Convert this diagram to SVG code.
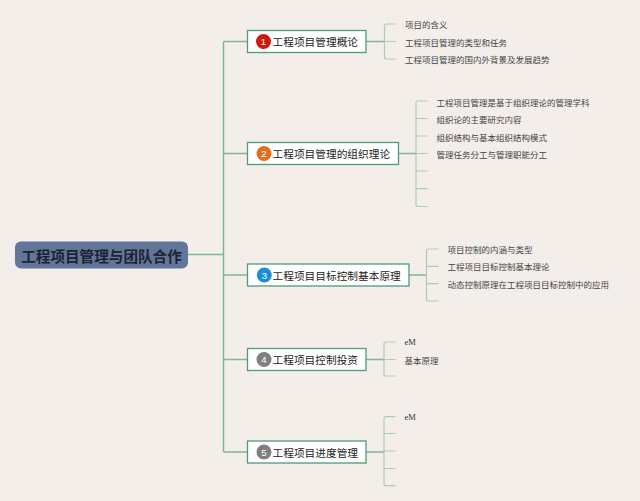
<svg xmlns="http://www.w3.org/2000/svg" width="640" height="501" viewBox="0 0 640 501">
<style>
.bg{fill:#f3eeea}
.trunk{fill:none;stroke:#7db79b;stroke-width:1.5}
.br{fill:none;stroke:#a9cdb9;stroke-width:1.2}
.node{fill:#ffffff;stroke:#4f9a7a;stroke-width:1.3}
.nt{font-family:"Noto Sans CJK SC","Noto Sans",sans-serif;font-size:10.7px;fill:#222;dominant-baseline:central}
.bd{font-family:"Liberation Sans","Noto Sans",sans-serif;font-size:9.5px;fill:#fff;text-anchor:middle;dominant-baseline:central}
.ct{font-family:"Noto Sans CJK SC","Noto Sans",sans-serif;font-size:8.5px;fill:#444;dominant-baseline:central}
.em{font-family:"Liberation Serif",serif;font-size:8.5px;fill:#333;dominant-baseline:central}
.rt{font-family:"Noto Sans CJK SC","Noto Sans",sans-serif;font-size:14.6px;font-weight:bold;fill:#1c2233;text-anchor:middle;dominant-baseline:central}
</style>
<rect class="bg" x="0" y="0" width="640" height="501"/>
<g id="connectors">
<path class="trunk" d="M188 254.5H223.5M223.5 41.5V452M223.5 41.5H247.5M223.5 153.5H247.5M223.5 275H247.5M223.5 359.5H247.5M223.5 452H247.5"/>
<path class="trunk" d="M366 41.5H384.5M398.5 153.5H416M409 275H426.5M366 359.5H384M366 452H384"/>
<path class="br" d="M396 24H386.5Q384.5 24 384.5 26V57Q384.5 59 386.5 59H396M384.5 41.5H396"/>
<path class="br" d="M427.5 101H418Q416 101 416 103V204.5Q416 206.5 418 206.5H427.5M416 118.5H427.5M416 136H427.5M416 153.5H427.5M416 171H427.5M416 188.7H427.5"/>
<path class="br" d="M438.5 249H428.5Q426.5 249 426.5 251V299Q426.5 301 428.5 301H438.5M426.5 266.3H438.5M426.5 283.7H438.5"/>
<path class="br" d="M395.5 342H386Q384 342 384 344V374Q384 376 386 376H395.5M384 359.5H395.5"/>
<path class="br" d="M395.5 416.7H386Q384 416.7 384 418.7V483.7Q384 485.7 386 485.7H395.5M384 433.5H395.5M384 451H395.5M384 468.5H395.5"/>
</g>
<g id="root">
<rect x="15" y="241.5" width="173" height="27" rx="6" fill="#62769a"/>
<text class="rt" x="101.5" y="255">工程项目管理与团队合作</text>
</g>
<g id="n1">
<rect class="node" x="247.5" y="30.5" width="118.5" height="22"/>
<circle cx="263.5" cy="41.5" r="7.5" fill="#cc1a0e"/>
<text class="bd" x="263.5" y="41.8">1</text>
<text class="nt" x="272.5" y="41.5">工程项目管理概论</text>
<text class="ct" x="405" y="24">项目的含义</text>
<text class="ct" x="405" y="41.5">工程项目管理的类型和任务</text>
<text class="ct" x="405" y="59">工程项目管理的国内外背景及发展趋势</text>
</g>
<g id="n2">
<rect class="node" x="247.5" y="142.5" width="151" height="22"/>
<circle cx="264" cy="153.5" r="7.5" fill="#e07020"/>
<text class="bd" x="264" y="153.8">2</text>
<text class="nt" x="272.5" y="153.5">工程项目管理的组织理论</text>
<text class="ct" x="436.5" y="101.5">工程项目管理是基于组织理论的管理学科</text>
<text class="ct" x="436.5" y="119">组织论的主要研究内容</text>
<text class="ct" x="436.5" y="136.5">组织结构与基本组织结构模式</text>
<text class="ct" x="436.5" y="154">管理任务分工与管理职能分工</text>
</g>
<g id="n3">
<rect class="node" x="247.5" y="264" width="161.5" height="22"/>
<circle cx="264.3" cy="275" r="7.5" fill="#1a8fd8"/>
<text class="bd" x="264.3" y="275.3">3</text>
<text class="nt" x="272.5" y="275">工程项目目标控制基本原理</text>
<text class="ct" x="447.5" y="249">项目控制的内涵与类型</text>
<text class="ct" x="447.5" y="266.3">工程项目目标控制基本理论</text>
<text class="ct" x="447.5" y="284">动态控制原理在工程项目目标控制中的应用</text>
</g>
<g id="n4">
<rect class="node" x="247.5" y="348.5" width="118.5" height="22"/>
<circle cx="264" cy="359.5" r="7.5" fill="#7f7f7f"/>
<text class="bd" x="264" y="359.8">4</text>
<text class="nt" x="272.5" y="359.5">工程项目控制投资</text>
<text class="em" x="404.5" y="342">eM</text>
<text class="ct" x="404.5" y="359.5">基本原理</text>
</g>
<g id="n5">
<rect class="node" x="247.5" y="441" width="118.5" height="22"/>
<circle cx="264" cy="452" r="7.5" fill="#7f7f7f"/>
<text class="bd" x="264" y="452.3">5</text>
<text class="nt" x="272.5" y="452">工程项目进度管理</text>
<text class="em" x="404.5" y="416.7">eM</text>
</g>
</svg>
